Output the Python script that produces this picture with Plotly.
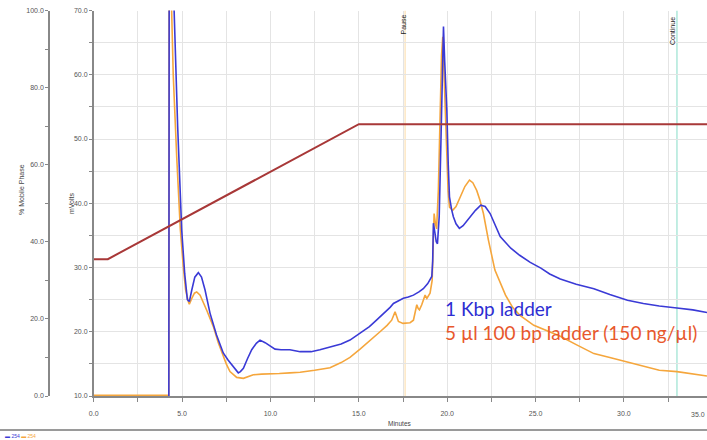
import plotly.graph_objects as go

# ---------------- data ----------------
t_blue = [0, 4.25, 4.27, 4.35, 4.45, 4.55, 4.75, 4.98, 5.15, 5.3, 5.41, 5.55, 5.72, 5.92, 6.1, 6.3,
          6.58, 6.95, 7.33, 7.6, 7.9, 8.05, 8.18, 8.3, 8.47, 8.7, 8.94, 9.2, 9.41, 9.7, 9.98, 10.26,
          10.6, 11.1, 11.68, 12.3, 12.8, 13.4, 14.0, 14.5, 15.07, 15.6, 16.0, 16.4, 16.77, 16.96,
          17.2, 17.52, 17.8, 18.09, 18.4, 18.65, 18.9, 19.13, 19.18, 19.22, 19.3, 19.38, 19.45,
          19.55, 19.65, 19.72, 19.79, 19.86, 19.98, 20.06, 20.13, 20.25, 20.35, 20.5, 20.69, 20.9,
          21.1, 21.3, 21.6, 21.9, 22.15, 22.43, 22.7, 23.0, 23.6, 24.1, 24.7, 25.3, 25.8, 26.4,
          27.3, 28.3, 29.2, 30.2, 31.1, 32.0, 33.0, 33.9, 34.7]
mv_blue = [5, 5, 72, 80, 80, 70, 52, 35.8, 29, 25, 24.7, 26.5, 28.5, 29.2, 28.5, 26.5,
           22.9, 19.5, 16.7, 15.6, 14.6, 14.0, 13.6, 13.8, 14.3, 15.8, 17.2, 18.2, 18.7, 18.3, 17.8, 17.3,
           17.2, 17.2, 16.9, 16.9, 17.2, 17.6, 18.1, 18.7, 19.8, 20.8, 21.8, 22.8, 23.8, 24.4,
           24.8, 25.2, 25.4, 25.7, 26.2, 26.7, 27.5, 28.6, 31, 36.9, 35.5, 34, 33.7,
           38, 50, 62, 67.5, 62, 54.5, 46, 41, 39, 37.9, 36.8, 36.1, 36.5,
           37.2, 37.9, 38.9, 39.7, 39.5, 38.4, 36.8, 34.8, 33.0, 31.9, 30.8, 29.9, 29.0, 28.2,
           27.4, 26.7, 25.8, 24.9, 24.4, 24.0, 23.7, 23.4, 23.0]

t_orange = [0, 4.25, 4.27, 4.32, 4.41, 4.5, 4.7, 4.9, 5.07, 5.2, 5.35, 5.41, 5.55, 5.7, 5.83, 6.02,
            6.4, 6.77, 7.05, 7.33, 7.5, 7.71, 7.9, 8.09, 8.47, 8.75, 9.03, 9.5, 9.98, 10.5, 11.1,
            11.68, 12.5, 13.37, 14.0, 14.5, 15.07, 15.6, 16.2, 16.6, 16.86, 17.05, 17.15, 17.24,
            17.5, 17.71, 17.9, 18.09, 18.2, 18.28, 18.36, 18.43, 18.56, 18.75, 18.85, 19.03, 19.15,
            19.26, 19.33, 19.4, 19.5, 19.6, 19.68, 19.75, 19.82, 19.94, 20.05, 20.13, 20.31, 20.5,
            20.73, 21.0, 21.26, 21.45, 21.67, 21.85, 22.05, 22.33, 22.7, 23.0, 23.3, 23.7, 24.1,
            24.9, 25.6, 26.4, 27.3, 28.3, 29.2, 30.2, 31.1, 32.0, 33.0, 33.9, 34.7]
mv_orange = [10.1, 10.1, 75, 80, 70, 60, 47, 36, 30.1, 26.5, 24.7, 24.3, 25.2, 26.0, 26.2, 25.7,
             23.3, 20.8, 18.3, 16.1, 15.0, 13.8, 13.3, 12.9, 12.75, 13.0, 13.3, 13.4, 13.5, 13.5, 13.6,
             13.7, 14.0, 14.4, 15.2, 16.0, 17.3, 18.5, 20.0, 21.0, 21.8, 23.1, 22.3, 21.6,
             21.3, 21.3, 21.4, 21.8, 23.0, 24.2, 23.6, 23.4, 24.2, 25.7, 25.2, 26.0, 28.0,
             38.4, 36.9, 36.0, 42, 55, 63, 65.9, 60, 49.3, 42, 39.4, 38.9, 39.5,
             41.0, 42.6, 43.6, 43.2, 42.0, 40.5, 38.4, 34.3, 29.6, 27.5, 25.7, 23.8, 22.6,
             21.0, 20.2, 19.3, 18.0, 16.6, 16.0, 15.3, 14.6, 14.0, 13.8, 13.4, 13.1]

t_grad = [0, 0.8, 15.0, 34.7]
pct_grad = [35.5, 35.5, 70.5, 70.5]

t_pause = 17.62
t_continue = 33.0

x_ticks = [i * 2.5 for i in range(14)]
x_ticktext = [f"{v:.1f}" if i % 2 == 0 else "" for i, v in enumerate(x_ticks)]
y_ticks = [10 + 5 * i for i in range(13)]
y_ticktext = [f"{v:.1f}" if v % 10 == 0 else "" for v in y_ticks]
p_ticks = [10 * i for i in range(11)]
p_ticktext = [f"{v:.1f}" if v % 20 == 0 else "" for v in p_ticks]

label_blue = "1 Kbp ladder"
label_orange = "5 µl 100 bp ladder (150 ng/µl)"

# ---------------- figure ----------------
W, H = 707, 440
def px(x): return x / W
def py(y): return 1 - y / H

tick_font = dict(family="Liberation Sans", size=7, color="#555555")

fig = go.Figure()
fig.add_trace(go.Scatter(x=t_orange, y=mv_orange, mode="lines",
                         line=dict(color="#F5A63C", width=1.6), showlegend=False))
fig.add_trace(go.Scatter(x=t_blue, y=mv_blue, mode="lines",
                         line=dict(color="#3A3AD6", width=1.6), showlegend=False))
fig.add_trace(go.Scatter(x=t_grad, y=pct_grad, mode="lines", yaxis="y2",
                         line=dict(color="#A83838", width=2), showlegend=False))

fig.update_layout(
    width=W, height=H,
    margin=dict(l=0, r=0, t=0, b=0),
    paper_bgcolor="white", plot_bgcolor="white",
    showlegend=False,
    xaxis=dict(domain=[px(93.7), 1], range=[0, 34.7], tickmode="array",
               tickvals=x_ticks, ticktext=x_ticktext, showgrid=True, gridcolor="#E4E4E4",
               gridwidth=1, showline=True, linecolor="#888888", linewidth=1.5,
               ticks="outside", ticklen=4, tickcolor="#888888", tickfont=tick_font,
               zeroline=False, automargin=False, ticklabelstandoff=6),
    yaxis=dict(domain=[py(396), py(10.5)], range=[10, 70], tickmode="array",
               tickvals=y_ticks, ticktext=y_ticktext, showgrid=True, gridcolor="#E4E4E4",
               showline=True, linecolor="#888888", linewidth=1.5, ticks="outside",
               ticklen=3, tickcolor="#888888", tickfont=tick_font, zeroline=False,
               automargin=False),
    yaxis2=dict(overlaying="y", anchor="free", position=px(49), side="left",
                range=[0, 100], tickmode="array", tickvals=p_ticks, ticktext=p_ticktext,
                showgrid=False, showline=True, linecolor="#888888", linewidth=1.5,
                ticks="outside", ticklen=3, tickcolor="#888888", tickfont=tick_font,
                zeroline=False, automargin=False),
)

# event lines
fig.add_shape(type="line", xref="x", yref="y", x0=t_pause, x1=t_pause, y0=10, y1=70,
              line=dict(color="#FDE7C4", width=1.5), layer="below")
fig.add_shape(type="line", xref="x", yref="y", x0=t_continue, x1=t_continue, y0=10, y1=70,
              line=dict(color="#AEE8DA", width=1.5), layer="below")
# separator line at bottom
fig.add_shape(type="line", xref="paper", yref="paper", x0=0, x1=1, y0=py(430), y1=py(430),
              line=dict(color="#9A9A9A", width=2))

small = dict(family="Liberation Sans", size=7, color="#444444")
ann = [
    dict(text="Minutes", x=px(400), y=py(423), font=dict(family="Liberation Sans", size=6.5, color="#444444")),
    dict(text="mVolts", x=px(71), y=py(203), textangle=-90, font=small),
    dict(text="% Mobile Phase", x=px(21), y=py(190), textangle=-90, font=small),
    dict(text="Pause", x=px(403), y=py(24.5), textangle=-90, font=dict(family="Liberation Sans", size=7, color="#222222")),
    dict(text="Continue", x=px(673), y=py(31), textangle=-90, font=dict(family="Liberation Sans", size=7, color="#222222")),
    dict(text="35.0", x=1, xanchor="right", y=py(414), font=tick_font),
    dict(text="<span style='color:#3A3AD6'>▬ 254</span> <span style='color:#F5A63C'>▬ 254</span>",
         x=px(3), xanchor="left", y=py(436), font=dict(family="Liberation Sans", size=5)),
    dict(text=label_blue, x=px(443), xanchor="left", y=py(308),
         font=dict(family="Lato", size=19, color="#2D2DD2")),
    dict(text=label_orange, x=px(443), xanchor="left", y=py(332),
         font=dict(family="Lato", size=19, color="#E8582C")),
]
for a in ann:
    a.setdefault("xref", "paper")
    a.setdefault("yref", "paper")
    a.setdefault("showarrow", False)
    a.setdefault("xanchor", "center")
    a.setdefault("yanchor", "middle")
    fig.add_annotation(**a)

fig.write_html("out.html")
